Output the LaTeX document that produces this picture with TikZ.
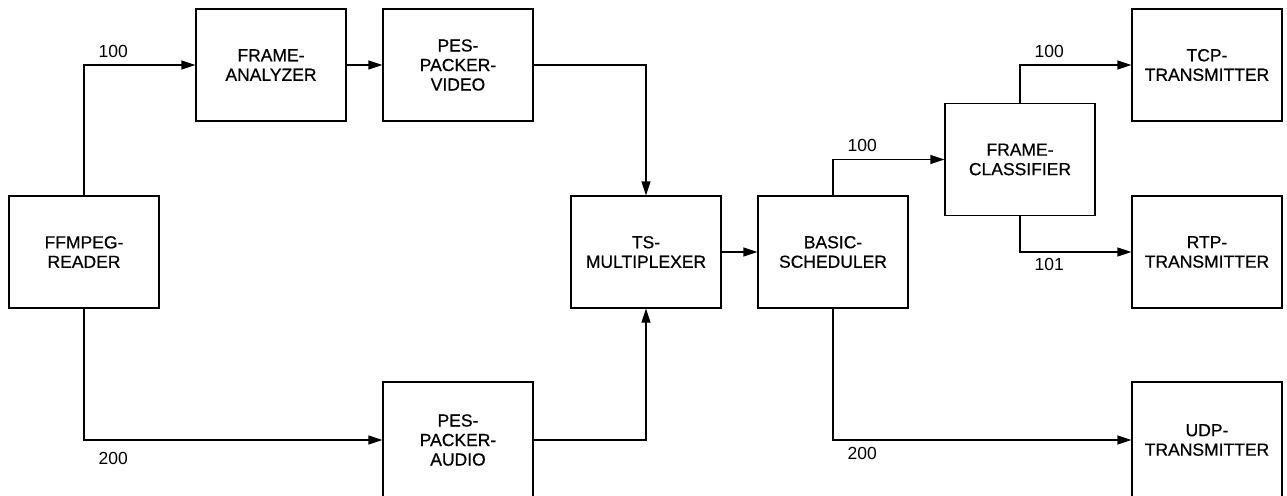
\documentclass[tikz,border=0pt]{standalone}
\usepackage{fontspec}
\setmainfont{Liberation Sans}
\newfontfamily\boxfont[FakeBold=0.6]{Liberation Sans}
\usetikzlibrary{arrows.meta}
\tikzset{
  block/.style={draw, line width=1.2pt, minimum width=150pt, minimum height=112pt,
    align=center, inner sep=2pt, font=\boxfont\fontsize{17.5}{19.5}\selectfont},
  lowblock/.style={block, minimum height=116pt},
  flow/.style={line width=1.2pt, -{Triangle[length=14pt, width=9pt]}},
  lbl/.style={inner sep=0pt, font=\fontsize{17.5}{19.5}\selectfont}
}
\begin{document}
\begin{tikzpicture}[x=1pt, y=-1pt]
  \useasboundingbox (0,0) rectangle (1287,495);
  % processing blocks
  \node[block]    (ffmpeg) at (84,252)    {FFMPEG-\\READER};
  \node[block]    (fa)     at (271,65)    {FRAME-\\ANALYZER};
  \node[block]    (pesv)   at (458,65)    {PES-\\PACKER-\\VIDEO};
  \node[lowblock] (pesa)   at (458,440)   {PES-\\PACKER-\\AUDIO};
  \node[block]    (ts)     at (646,252)   {TS-\\MULTIPLEXER};
  \node[block]    (basic)  at (833,252)   {BASIC-\\SCHEDULER};
  \node[block]    (fc)     at (1020,159.5){FRAME-\\CLASSIFIER};
  \node[block]    (tcp)    at (1207,65)   {TCP-\\TRANSMITTER};
  \node[block]    (rtp)    at (1207,252)  {RTP-\\TRANSMITTER};
  \node[lowblock] (udp)    at (1207,440)  {UDP-\\TRANSMITTER};
  % connections
  \draw[flow] (ffmpeg.north) |- node[lbl, pos=0.5, anchor=base west, xshift=14pt, yshift=7pt] {100} (fa.west);
  \draw[flow] (ffmpeg.south) |- node[lbl, pos=0.5, anchor=base west, xshift=14pt, yshift=-24pt] {200} (pesa.west);
  \draw[flow] (fa.east) -- (pesv.west);
  \draw[flow] (pesv.east) -| (ts.north);
  \draw[flow] (pesa.east) -| (ts.south);
  \draw[flow] (ts.east) -- (basic.west);
  \draw[flow] (basic.north) |- node[lbl, pos=0.5, anchor=base west, xshift=14pt, yshift=8pt] {100} (fc.west);
  \draw[flow] (basic.south) |- node[lbl, pos=0.5, anchor=base west, xshift=14pt, yshift=-19pt] {200} (udp.west);
  \draw[flow] (fc.north) |- node[lbl, pos=0.5, anchor=base west, xshift=14pt, yshift=7pt] {100} (tcp.west);
  \draw[flow] (fc.south) |- node[lbl, pos=0.5, anchor=base west, xshift=14pt, yshift=-18pt] {101} (rtp.west);
\end{tikzpicture}
\end{document}
